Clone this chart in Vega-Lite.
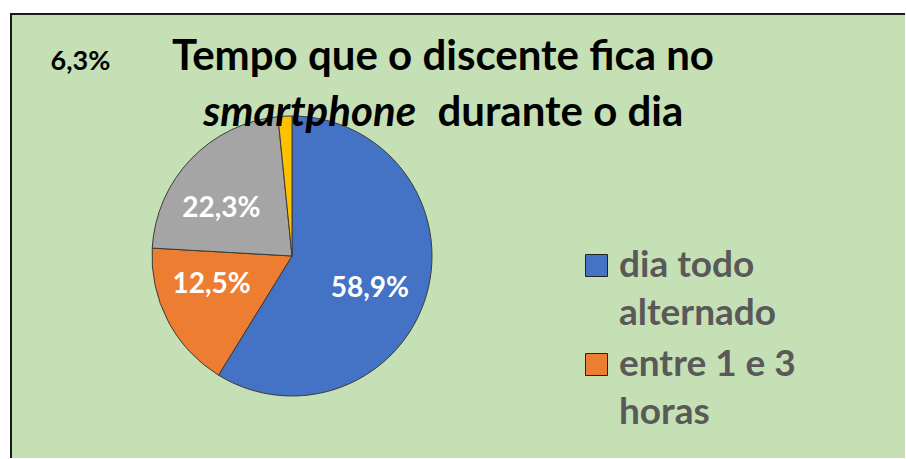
{
  "$schema": "https://vega.github.io/schema/vega-lite/v6.json",
  "background": "white",
  "padding": {"left": 10, "top": 13, "right": 0, "bottom": 0},
  "autosize": {"type": "pad"},
  "spacing": 0,
  "bounds": "flush",
  "title": {
    "text": ["Tempo que o discente fica no", "\u200b\u00a0\u00a0\u00a0\u00a0\u00a0\u00a0\u00a0\u00a0\u00a0\u00a0\u00a0\u00a0\u00a0\u00a0\u00a0\u00a0\u00a0\u00a0\u00a0\u00a0\u00a0\u00a0\u00a0durante o dia"],
    "subtitle": "smartphone\u00a0\u00a0\u00a0\u00a0\u00a0\u00a0\u00a0\u00a0\u00a0\u00a0\u00a0\u00a0\u00a0\u00a0\u00a0\u00a0\u00a0\u00a0\u00a0\u00a0\u00a0\u00a0\u00a0\u00a0\u00a0\u00a0\u00a0\u00a0\u00a0\u200b",
    "font": "Lato",
    "fontSize": 42,
    "fontWeight": "bold",
    "color": "black",
    "lineHeight": 56,
    "subtitleFont": "Lato",
    "subtitleFontSize": 42,
    "subtitleFontWeight": "bold",
    "subtitleFontStyle": "italic",
    "subtitleColor": "black",
    "subtitleLineHeight": 56,
    "subtitlePadding": -42,
    "anchor": "middle",
    "dx": -15,
    "offset": -122
  },
  "datasets": {
    "tempo": [
      {"categoria": "dia todo alternado", "valor": 58.8, "rotulo": "58,9%"},
      {"categoria": "entre 1 e 3 horas", "valor": 17.1, "rotulo": "12,5%"},
      {"categoria": "mais de 3 horas", "valor": 22.5, "rotulo": "22,3%"},
      {"categoria": "menos de 1 hora", "valor": 1.6, "rotulo": "6,3%"}
    ]
  },
  "vconcat": [
    {
      "data": {"values": []},
      "mark": "point",
      "width": 894,
      "height": 40,
      "view": {"fill": "#C5E0B4", "stroke": "#1a1a1a", "strokeWidth": 2, "strokeDash": [894, 934, 40]}
    },
    {
      "spacing": 0,
      "bounds": "flush",
      "hconcat": [
        {
          "data": {"name": "tempo"},
          "width": 562,
          "height": 404,
          "view": {"fill": "#C5E0B4", "stroke": "#1a1a1a", "strokeWidth": 2, "strokeDash": [0, 1528, 404]},
          "encoding": {
            "theta": {"field": "valor", "type": "quantitative", "stack": true},
            "order": {"field": "categoria", "type": "ordinal", "sort": "ascending"}
          },
          "layer": [
            {
              "mark": {"type": "arc", "outerRadius": 140, "stroke": "#3a3a3a", "strokeWidth": 1},
              "encoding": {
                "color": {
                  "field": "categoria",
                  "type": "nominal",
                  "scale": {
                    "domain": ["dia todo alternado", "entre 1 e 3 horas", "mais de 3 horas", "menos de 1 hora"],
                    "range": ["#4472C4", "#ED7D31", "#A5A5A5", "#FFC000"]
                  },
                  "legend": {
                    "orient": "none",
                    "legendX": 567,
                    "legendY": 233,
                    "values": ["dia todo alternado", "entre 1 e 3 horas"],
                    "title": null,
                    "padding": 0,
                    "symbolType": "square",
                    "symbolSize": 484,
                    "symbolStrokeColor": "#222222",
                    "symbolStrokeWidth": 1,
                    "labelFont": "Lato",
                    "labelFontSize": 37,
                    "labelFontWeight": "bold",
                    "labelColor": "#595959",
                    "labelLimit": 400,
                    "labelOffset": 4,
                    "rowPadding": 13,
                    "labelExpr": "datum.label === 'dia todo alternado' ? ['dia todo', 'alternado'] : datum.label === 'entre 1 e 3 horas' ? ['entre 1 e 3', 'horas'] : datum.label",
                    "encode": {"labels": {"update": {"lineHeight": {"value": 48}}}}
                  }
                }
              }
            },
            {
              "mark": {"type": "text", "radius": 84, "dx": -3, "dy": 10, "color": "white", "font": "Lato", "fontSize": 28, "fontWeight": "bold"},
              "encoding": {
                "detail": {"field": "categoria", "type": "nominal"},
                "text": {"condition": {"test": "datum.categoria === 'dia todo alternado'", "field": "rotulo"}, "value": ""}
              }
            },
            {
              "mark": {"type": "text", "radius": 84, "dx": -6, "dy": -10, "color": "white", "font": "Lato", "fontSize": 28, "fontWeight": "bold"},
              "encoding": {
                "detail": {"field": "categoria", "type": "nominal"},
                "text": {"condition": {"test": "datum.categoria === 'entre 1 e 3 horas'", "field": "rotulo"}, "value": ""}
              }
            },
            {
              "mark": {"type": "text", "radius": 84, "dx": -10, "dy": 11, "color": "white", "font": "Lato", "fontSize": 28, "fontWeight": "bold"},
              "encoding": {
                "detail": {"field": "categoria", "type": "nominal"},
                "text": {"condition": {"test": "datum.categoria === 'mais de 3 horas'", "field": "rotulo"}, "value": ""}
              }
            },
            {
              "transform": [
                {"stack": "valor", "groupby": [], "sort": [{"field": "categoria", "order": "ascending"}], "as": ["v0", "v1"]},
                {"filter": "datum.categoria === 'menos de 1 hora'"}
              ],
              "mark": {"type": "text", "radius": 195, "dx": -192, "dy": 0, "color": "black", "font": "Lato", "fontSize": 27, "fontWeight": "bold"},
              "encoding": {
                "theta": {"field": "v0", "type": "quantitative", "stack": null},
                "text": {"field": "rotulo", "type": "nominal"}
              }
            }
          ]
        },
        {
          "data": {"values": []},
          "mark": "point",
          "width": 332,
          "height": 404,
          "view": {"fill": "#C5E0B4", "stroke": null}
        }
      ]
    }
  ],
  "config": {
    "font": "Lato"
  }
}
